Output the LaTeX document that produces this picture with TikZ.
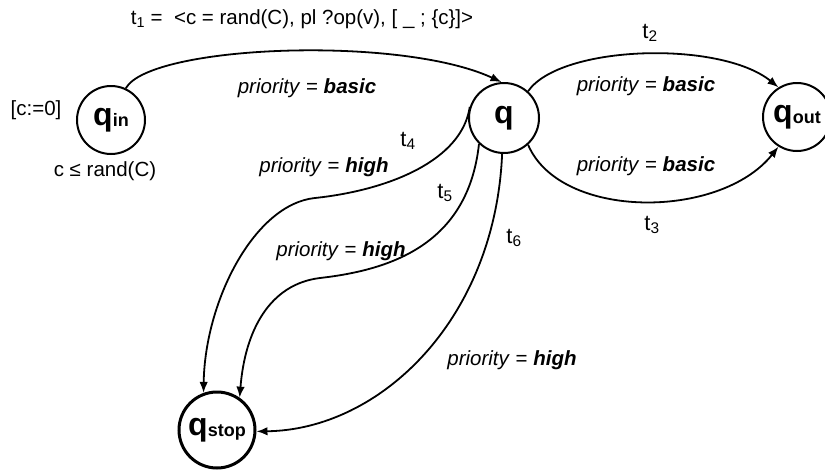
\documentclass[tikz,border=0pt]{standalone}
\usepackage{fontspec}
\setmainfont{Liberation Sans}
\usetikzlibrary{arrows.meta}
\newcommand\qlab[1]{{\fontsize{32}{34}\selectfont\bfseries q\raisebox{-1pt}{\fontsize{18}{19}\selectfont #1}}}
\newcommand\prio[1]{\textit{priority} = \textbf{\textit{#1}}}
\newcommand\tl[1]{{\fontsize{22}{24}\selectfont t\textsubscript{#1}}}
\begin{document}
\begin{tikzpicture}[x=1pt,y=-1pt,
  state/.style={circle,draw,line width=2pt,inner sep=0pt},
  edge/.style={line width=1.8pt,-{Latex[length=11pt,width=8.5pt]}},
  lbl/.style={inner sep=0pt,font=\fontsize{20.5}{23}\selectfont}]
\useasboundingbox (0,0) rectangle (825,469);
\node[state,minimum size=68pt,label={[inner sep=0pt]center:\qlab{in}}] (qin) at (111,120) {};
\node[state,minimum size=70pt,label={[inner sep=0pt]center:\qlab{}}] (q) at (504,118) {};
\node[state,minimum size=68pt,label={[inner sep=0pt]center:\qlab{out}}] (qout) at (797,117) {};
\node[state,minimum size=76pt,line width=3pt,label={[inner sep=0pt]center:\qlab{stop}}] (qstop) at (217,430) {};
% edges
\draw[edge] (qin.65) .. controls (150,45) and (400,35) .. (q.94);
\draw[edge] (q.48) .. controls (560,45) and (720,40) .. (qout.122);
\draw[edge] (q.-48) .. controls (560,220) and (720,220) .. (qout.-122);
\coordinate (m4) at (315,198);
\draw[edge] (q.162) .. controls (462,160) and (390,190) .. (m4) .. controls (255,204) and (205,300) .. (qstop.110);
\coordinate (m5) at (320,278);
\draw[edge] (q.226) .. controls (468,245) and (390,270) .. (m5) .. controls (270,284) and (245,330) .. (qstop.55);
\draw[edge] (q.267) .. controls (495,320) and (380,430) .. (qstop.-2);
% labels
\node[lbl] (l1) at (302,19) {t\textsubscript{1} = \ <c = rand(C), pl ?op(v), [ \_ ; \{c\}]>};
\node[lbl] (p1) at (307,88) {\prio{basic}};
\node[lbl] (init) at (36,110) {[c:=0]};
\node[lbl] (inv) at (105,171) {c ≤ rand(C)};
\node[lbl] (l2) at (650,33) {\tl{2}};
\node[lbl] (p2) at (646,86) {\prio{basic}};
\node[lbl] (p3) at (646,166) {\prio{basic}};
\node[lbl] (l3) at (652,225) {\tl{3}};
\node[lbl] (l4) at (408,141) {\tl{4}};
\node[lbl] (p4) at (324,167) {\prio{high}};
\node[lbl] (l5) at (445,193) {\tl{5}};
\node[lbl] (p5) at (341,251) {\prio{high}};
\node[lbl] (l6) at (514,238) {\tl{6}};
\node[lbl] (p6) at (512,360) {\prio{high}};
\end{tikzpicture}
\end{document}
